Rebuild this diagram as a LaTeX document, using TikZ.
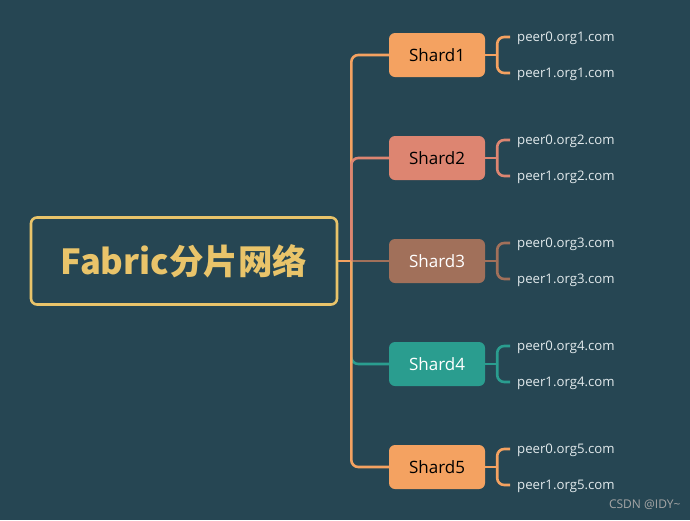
\documentclass[tikz,border=0pt]{standalone}
\usepackage{fontspec}
\setmainfont{Open Sans}
\newfontfamily\cjk{Noto Sans CJK SC}
\usepackage{xcolor}
\usetikzlibrary{positioning,calc,backgrounds}
\definecolor{bgcol}{RGB}{38,70,83}
\definecolor{titlecol}{RGB}{233,196,106}
\definecolor{orangecol}{RGB}{244,162,97}
\definecolor{salmoncol}{RGB}{221,133,113}
\definecolor{browncol}{RGB}{161,112,90}
\definecolor{tealcol}{RGB}{42,157,143}
\definecolor{peertext}{RGB}{226,234,236}

\begin{document}
\begin{tikzpicture}[
    x=1pt, y=-1pt,
    title/.style={draw=titlecol, line width=2.6pt, rounded corners=6pt, text=titlecol, minimum width=306pt, minimum height=87pt, font=\cjk\bfseries\fontsize{34.5}{38}\selectfont},
    shard/.style={fill=#1, rounded corners=6pt, minimum width=96pt, minimum height=44pt, font=\fontsize{17}{20}\selectfont},
    peer/.style={anchor=west, inner sep=0pt, text=peertext, font=\fontsize{13.2}{16}\selectfont},
    branch/.style={draw=#1, line width=2.6pt, rounded corners=7pt}
]
\fill[bgcol] (0,0) rectangle (690,520);
\useasboundingbox (0,0) rectangle (690,520);
% root and shards
\node[title] (root) at (184,261) {Fabric分片网络};
\node[shard=orangecol, text=black] (s1) at (437,55) {Shard1};
\node[shard=salmoncol, text=black] (s2) at (437,158) {Shard2};
\node[shard=browncol, text=white] (s3) at (437,261) {Shard3};
\node[shard=tealcol, text=white] (s4) at (437,364) {Shard4};
\node[shard=orangecol, text=black] (s5) at (437,467) {Shard5};
% peers
\node[peer] (p10) at (517,38) {peer0.org1.com};
\node[peer] (p11) at (517,74) {peer1.org1.com};
\node[peer] (p20) at (517,141) {peer0.org2.com};
\node[peer] (p21) at (517,177) {peer1.org2.com};
\node[peer] (p30) at (517,244) {peer0.org3.com};
\node[peer] (p31) at (517,280) {peer1.org3.com};
\node[peer] (p40) at (517,347) {peer0.org4.com};
\node[peer] (p41) at (517,383) {peer1.org4.com};
\node[peer] (p50) at (517,450) {peer0.org5.com};
\node[peer] (p51) at (517,486) {peer1.org5.com};
% trunk from the root
\coordinate (jn) at ($(root.east)+(13,0)$);
\draw[branch=browncol] (jn) -- (s3.west);
\draw[branch=tealcol] (jn) |- (s4.west);
\draw[branch=orangecol] (jn) |- (s5.west);
\draw[branch=orangecol] (jn) |- (s1.west);
\draw[branch=salmoncol] (jn) |- (s2.west);
\draw[branch=orangecol] (root.east) -- (jn);
% peer forks
\coordinate (j1) at ($(s1.east)+(12,0)$);
\coordinate (j2) at ($(s2.east)+(12,0)$);
\coordinate (j3) at ($(s3.east)+(12,0)$);
\coordinate (j4) at ($(s4.east)+(12,0)$);
\coordinate (j5) at ($(s5.east)+(12,0)$);
\draw[branch=orangecol] (s1.east) -- (j1);
\draw[branch=orangecol] (j1) |- ($(s1.east)+(25,-18)$);
\draw[branch=orangecol] (j1) |- ($(s1.east)+(25,18)$);
\draw[branch=salmoncol] (s2.east) -- (j2);
\draw[branch=salmoncol] (j2) |- ($(s2.east)+(25,-18)$);
\draw[branch=salmoncol] (j2) |- ($(s2.east)+(25,18)$);
\draw[branch=browncol] (s3.east) -- (j3);
\draw[branch=browncol] (j3) |- ($(s3.east)+(25,-18)$);
\draw[branch=browncol] (j3) |- ($(s3.east)+(25,18)$);
\draw[branch=tealcol] (s4.east) -- (j4);
\draw[branch=tealcol] (j4) |- ($(s4.east)+(25,-18)$);
\draw[branch=tealcol] (j4) |- ($(s4.east)+(25,18)$);
\draw[branch=orangecol] (s5.east) -- (j5);
\draw[branch=orangecol] (j5) |- ($(s5.east)+(25,-18)$);
\draw[branch=orangecol] (j5) |- ($(s5.east)+(25,18)$);
% watermark
\node[anchor=east, text=gray!70, font=\fontsize{12}{14}\selectfont] (mark) at (684,505) {CSDN @IDY\textasciitilde};
\end{tikzpicture}
\end{document}
